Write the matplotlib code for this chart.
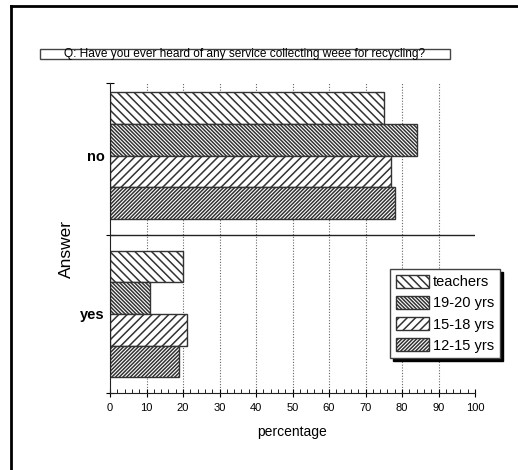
import matplotlib.pyplot as plt
import numpy as np
from matplotlib.lines import Line2D
from matplotlib.patches import Rectangle

plt.rcParams['font.family'] = ['Liberation Sans', 'DejaVu Sans']
plt.rcParams['hatch.linewidth'] = 1.1

# data
answers = ["yes", "no"]
groups = ["teachers", "19-20 yrs", "15-18 yrs", "12-15 yrs"]
teachers = [20, 75]
yrs_19_20 = [11, 84]
yrs_15_18 = [21, 77]
yrs_12_15 = [19, 78]
series = [teachers, yrs_19_20, yrs_15_18, yrs_12_15]
hatches = ['\\' * 4, '\\' * 9, '/' * 4, '/' * 9]

fig = plt.figure(figsize=(5.18, 4.70), dpi=100)
ax = fig.add_axes([110/518, 1-393/470, 365/518, 310/470])

centers = np.array([0.5, 1.5])
h = 0.2
offsets = [0.3, 0.1, -0.1, -0.3]
for vals, off, ht, name in zip(series, offsets, hatches, groups):
    ax.barh(centers + off, vals, height=h, color='white', edgecolor='#333333',
            linewidth=1, hatch=ht, label=name, zorder=2)

ax.set_xlim(0, 100)
ax.set_ylim(0, 1.96)
ax.axhline(1.0, color='#222222', lw=1, zorder=3)

ax.set_xticks(np.arange(0, 101, 10))
ax.set_xticks(np.arange(0, 101, 2), minor=True)
ax.tick_params(axis='x', which='major', direction='inout', length=6, labelsize=8, pad=4)
ax.tick_params(axis='x', which='minor', direction='in', length=3)

ax.set_yticks([0, 1, 1.96])
ax.set_yticklabels([])
ax.set_yticks(centers, minor=True)
ax.set_yticklabels(answers, minor=True, fontsize=10.5, fontweight='bold')
ax.tick_params(axis='y', which='major', direction='inout', length=6)
ax.tick_params(axis='y', which='minor', length=0, pad=4)

ax.grid(axis='x', which='major', linestyle=(0, (1, 1.5)), color='#666666', lw=0.8, zorder=0)
gl = ax.xaxis.get_gridlines()
gl[0].set_visible(False)
gl[-1].set_visible(False)

for s in ['top', 'right']:
    ax.spines[s].set_visible(False)
ax.spines['left'].set_color('#222222')
ax.spines['bottom'].set_color('#222222')

ax.set_xlabel("percentage", fontsize=10, labelpad=9)
ax.set_ylabel("Answer", fontsize=12.5, va='center')
ax.yaxis.set_label_coords(-0.1205, 0.465)

leg = ax.legend(loc='upper left', bbox_to_anchor=(0.767, 0.40), fontsize=10.5,
                frameon=True, fancybox=False, edgecolor='#444444',
                shadow={'color': 'black', 'alpha': 1}, handlelength=2.3,
                handleheight=1.0, labelspacing=0.45, borderpad=0.4,
                handletextpad=0.25, borderaxespad=0)
leg.get_frame().set_linewidth(1)

# title box
fig.patches.append(Rectangle((40/518, 1-59/470), 410/518, 10/470, transform=fig.transFigure,
                             fill=False, edgecolor='#444444', lw=1))
fig.text(245/518, 1-53.5/470, "Q: Have you ever heard of any service collecting weee for recycling?",
         ha='center', va='center', fontsize=8.6)

# outer frame (top and left edges)
fig.add_artist(Line2D([11/518, 1], [1-6/470, 1-6/470], color='black', lw=2, transform=fig.transFigure))
fig.add_artist(Line2D([11/518, 11/518], [0, 1-6/470], color='black', lw=2, transform=fig.transFigure))

fig.savefig("out.png", dpi=100)
